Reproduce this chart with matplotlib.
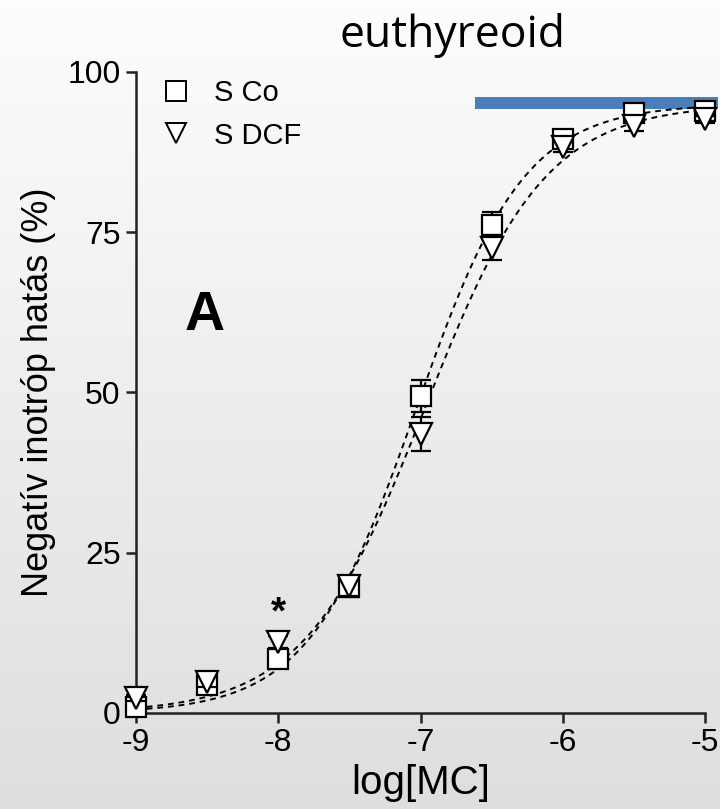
import numpy as np
import matplotlib
matplotlib.use("Agg")
import matplotlib.pyplot as plt
from matplotlib.patches import Rectangle
from matplotlib.lines import Line2D

# log molar concentration of MC
log_conc = [-9.0, -8.5, -8.0, -7.5, -7.0, -6.5, -6.0, -5.5, -5.0]

# negative inotropic effect (%), mean and SEM
sco_mean = [1.0, 4.3, 8.4, 19.6, 49.4, 76.2, 89.6, 93.6, 93.9]
sco_sem = [0.5, 0.8, 0.8, 1.5, 2.5, 2.0, 0.8, 0.8, 0.6]
sdcf_mean = [2.3, 4.9, 11.1, 19.8, 43.5, 72.6, 88.3, 91.6, 92.6]
sdcf_sem = [0.5, 0.8, 0.9, 1.5, 2.6, 2.0, 0.8, 0.8, 0.6]

series_labels = ["S Co", "S DCF"]
x_ticks = [-9, -8, -7, -6, -5]
y_ticks = [0, 25, 50, 75, 100]


def hill(x, top, logec50, slope):
    return top / (1.0 + 10 ** ((logec50 - x) * slope))


def fit_hill(x, y):
    x = np.asarray(x)
    y = np.asarray(y)
    best = None
    for top in np.arange(88, 100.01, 0.25):
        for ec in np.arange(-7.4, -6.7, 0.01):
            for s in np.arange(0.8, 1.6, 0.02):
                r = np.sum((hill(x, top, ec, s) - y) ** 2)
                if best is None or r < best[0]:
                    best = (r, top, ec, s)
    return best[1:]


fig = plt.figure(figsize=(7.2, 8.09), dpi=100)

# soft vertical background gradient
bg = fig.add_axes([0, 0, 1, 1], zorder=-10)
grad = np.linspace(0, 1, 256).reshape(-1, 1)
bg.imshow(grad, cmap=matplotlib.colors.LinearSegmentedColormap.from_list(
    "bg", ["#fdfdfd", "#dedede"]), aspect="auto", extent=[0, 1, 0, 1])
bg.axis("off")

ax = fig.add_axes([136 / 720, 96 / 809, 569 / 720, 641 / 809])
ax.set_facecolor("none")

xs = np.linspace(-9, -5, 400)
for mean in (sco_mean, sdcf_mean):
    top, ec, s = fit_hill(log_conc, mean)
    ax.plot(xs, hill(xs, top, ec, s), color="black", lw=1.4,
            ls=(0, (3, 2.5)), zorder=2)

mstyle = dict(mfc="white", mec="black", mew=1.6, ecolor="black",
              elinewidth=1.6, capsize=7, capthick=1.6, clip_on=False)
ax.errorbar(log_conc, sco_mean, yerr=sco_sem, fmt="s", ms=15, zorder=3,
            **mstyle)
ax.errorbar(log_conc, sdcf_mean, yerr=sdcf_sem, fmt="v", ms=16, zorder=4,
            **mstyle)

ax.set_xlim(-9, -5)
ax.set_ylim(0, 100)
ax.set_xticks(x_ticks)
ax.set_xticklabels(["-9", "-8", "-7", "-6", "-5"])
ax.set_yticks(y_ticks)

for side in ("top", "right"):
    ax.spines[side].set_visible(False)
for side in ("left", "bottom"):
    ax.spines[side].set_linewidth(1.8)
    ax.spines[side].set_color("#222222")
ax.tick_params(direction="out", length=7, width=1.8, color="#222222",
               labelsize=23, pad=4)
for lbl in ax.get_xticklabels() + ax.get_yticklabels():
    lbl.set_family("Liberation Sans")

ax.set_xlabel("log[MC]", fontsize=29, family="Liberation Sans", labelpad=4)
ax.set_ylabel("Negatív inotróp hatás (%)", fontsize=26,
              family="Liberation Sans", labelpad=8)

# saturation marker bar
ax.add_patch(Rectangle((-6.62, 94.3), 1.71, 1.85, color="#4a7ebb",
                       clip_on=False, zorder=1, lw=0))

ax.text(-8.0, 15.5, "*", fontsize=28, fontweight="bold", ha="center",
        va="center", family="Liberation Sans")
ax.text(-8.52, 62, "A", fontsize=40, fontweight="bold", ha="center",
        va="center", family="Liberation Sans")

handles = [
    Line2D([], [], ls="none", marker="s", ms=14, mfc="white", mec="black",
           mew=1.4),
    Line2D([], [], ls="none", marker="v", ms=15, mfc="white", mec="black",
           mew=1.4),
]
ax.legend(handles, series_labels, loc="upper left",
          bbox_to_anchor=(-0.002, 1.03), frameon=False,
          handlelength=1.0, handletextpad=0.8, labelspacing=0.5,
          prop={"family": "Liberation Sans", "size": 21})

fig.text(452 / 720, 1 - 35 / 809, "euthyreoid", fontsize=32,
         family="Open Sans", ha="center", va="center")

fig.savefig("out.png", dpi=100)
